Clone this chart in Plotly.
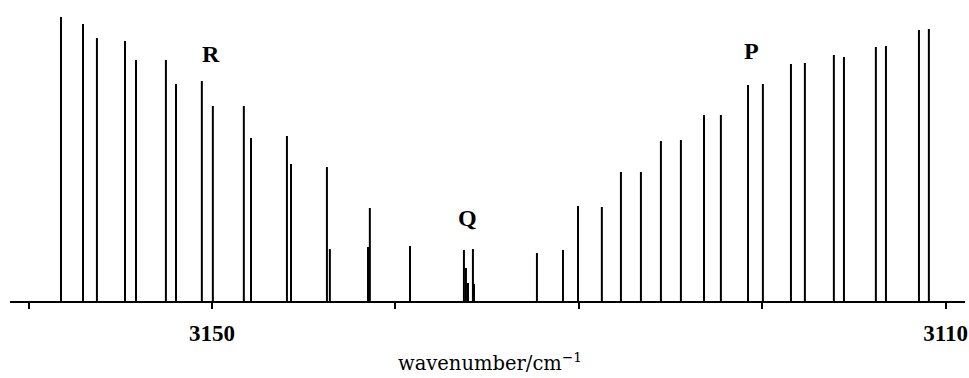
import plotly.graph_objects as go

# Line positions (wavenumber / cm^-1) and relative intensities (arb. units)
r_wavenumbers = [3158.23, 3157.03, 3156.27, 3154.74, 3154.14, 3152.51, 3151.96,
                 3150.55, 3149.95, 3148.26, 3147.87, 3145.91, 3145.69, 3143.73,
                 3143.57, 3141.49, 3141.39, 3139.20]
r_intensity = [284, 277, 263, 260, 241, 241, 217, 220, 195, 195, 163, 165, 137, 134,
               52, 54, 93, 55]

q_wavenumbers = [3136.26, 3136.15, 3136.04, 3135.77, 3135.71]
q_intensity = [51, 33, 18, 52, 17]

p_wavenumbers = [3132.28, 3130.86, 3130.04, 3128.74, 3127.70, 3126.61, 3125.52,
                 3124.43, 3123.17, 3122.25, 3120.77, 3119.96, 3118.43, 3117.67,
                 3116.09, 3115.54, 3113.80, 3113.25, 3111.45, 3110.91]
p_intensity = [48, 51, 95, 94, 129, 129, 160, 161, 186, 186, 216, 217, 237, 238,
               246, 244, 254, 255, 271, 272]

tick_values = [3150, 3110]
tick_labels = ["3150", "3110"]
minor_tick_step = 10

branch_labels = ["R", "Q", "P"]
branch_label_x = [3150.05, 3136.04, 3120.56]
branch_label_y = [247, 83, 250]

x_range = [3161.01, 3108.94]
y_range = [0, 300]


def sticks(xs, ys):
    px, py = [], []
    for x, y in zip(xs, ys):
        px += [x, x, None]
        py += [0, y, None]
    return px, py


fig = go.Figure()
for xs, ys in [(r_wavenumbers, r_intensity), (q_wavenumbers, q_intensity),
               (p_wavenumbers, p_intensity)]:
    sx, sy = sticks(xs, ys)
    fig.add_trace(go.Scatter(x=sx, y=sy, mode="lines",
                             line=dict(color="black", width=2),
                             showlegend=False, hoverinfo="skip"))

for t, x, y in zip(branch_labels, branch_label_x, branch_label_y):
    fig.add_annotation(x=x, y=y, text=t, showarrow=False,
                       font=dict(family="Liberation Serif", size=24, color="black",
                                 weight="bold"),
                       xanchor="center", yanchor="middle")

fig.add_annotation(xref="paper", yref="paper", x=0.503, y=-0.203,
                   text="wavenumber/cm<sup>−1</sup>", showarrow=False,
                   font=dict(family="DejaVu Serif", size=19.5, color="black"),
                   xanchor="center", yanchor="middle")

fig.update_xaxes(range=x_range, showline=True, linecolor="black", linewidth=2,
                 ticks="outside", ticklen=6, tickwidth=2, tickcolor="black",
                 tickvals=tick_values, ticktext=tick_labels,
                 minor=dict(ticks="outside", ticklen=6, tickwidth=2,
                            tickcolor="black", dtick=minor_tick_step, tick0=3110,
                            showgrid=False),
                 tickfont=dict(family="Liberation Serif", size=23, color="black",
                               weight="bold"),
                 ticklabelstandoff=4,
                 showgrid=False, zeroline=False, fixedrange=True)
fig.update_yaxes(range=y_range, visible=False, showgrid=False, zeroline=False,
                 fixedrange=True)

fig.update_layout(width=969, height=378,
                  margin=dict(l=10, r=4, t=1, b=77),
                  plot_bgcolor="white", paper_bgcolor="white",
                  showlegend=False)

fig.write_html("out.html", config={"displayModeBar": False})
